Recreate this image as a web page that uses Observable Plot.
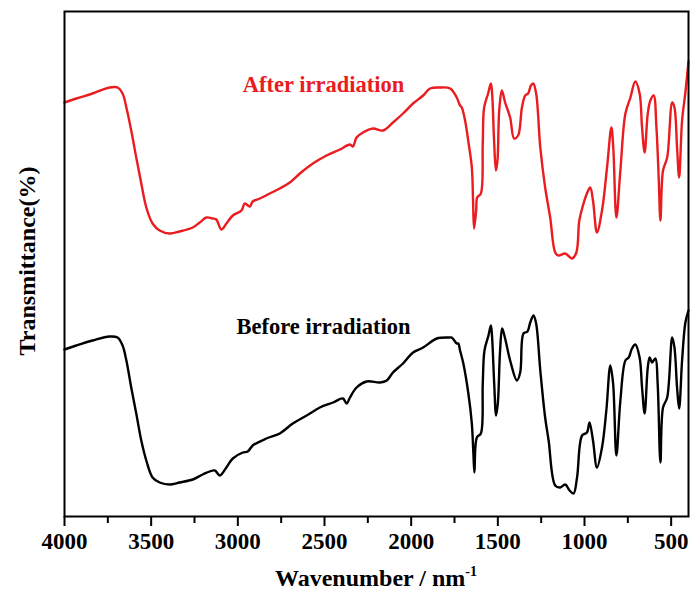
<!DOCTYPE html>
<html>
<head>
<meta charset="utf-8">
<script src="https://cdn.jsdelivr.net/npm/d3@7"></script>
<script src="https://cdn.jsdelivr.net/npm/@observablehq/plot@0.6"></script>
<style>
  html, body { margin: 0; padding: 0; background: #fff; }
  #chart { width: 691px; height: 599px; }
  #chart svg text { font-family: 'Liberation Serif', 'Times New Roman', serif; }
</style>
</head>
<body>
<div id="chart"></div>
<script>
// Wavenumber (cm-1 axis, labelled nm-1) and transmittance (arbitrary units)
const afterWn = [4000,3932,3838,3740,3694,3665,3643,3615,3586,3557,3528,3492,3451,3393,3336,3260,3220,3181,3145,3124,3095,3066,3029,2979,2960,2931,2914,2873,2815,2758,2700,2642,2567,2488,2411,2353,2336,2315,2278,2220,2163,2105,2047,1989,1931,1891,1833,1775,1737,1718,1708,1689,1671,1650,1643,1637,1625,1619,1598,1587,1579,1556,1540,1533,1521,1511,1502,1492,1477,1458,1429,1406,1383,1361,1342,1325,1309,1296,1279,1255,1227,1198,1169,1151,1111,1072,1047,1030,1009,986,967,951,928,899,870,845,834,816,793,764,735,707,682,668,653,635,620,601,585,572,562,547,523,494,481,466,454,437,418,400];
const afterT = [414,418,423,429,429,423,409,386,359,333,309,293,286,283,285,289,294,299,298,297,287,293,301,306,313,310,315,318,323,328,334,343,353,361,367,372,370,379,384,388,386,394,403,413,421,428,429,428,419,411,409,396,376,349,316,288,306,319,323,373,409,423,433,423,373,346,356,406,426,414,399,378,381,409,421,423,431,433,423,369,329,299,264,261,263,258,264,296,311,323,329,316,284,306,349,389,369,299,346,403,419,435,423,389,364,403,416,421,389,339,296,346,359,414,409,369,339,396,424,455];

const beforeWn = [4000,3932,3838,3740,3694,3665,3643,3615,3586,3557,3528,3492,3451,3393,3336,3260,3203,3133,3104,3066,3029,2971,2943,2914,2835,2758,2683,2603,2527,2451,2394,2372,2353,2315,2257,2180,2141,2105,2047,1989,1931,1852,1775,1766,1737,1728,1718,1699,1670,1650,1641,1635,1621,1598,1587,1577,1554,1540,1533,1521,1510,1500,1487,1475,1458,1429,1390,1371,1352,1329,1313,1294,1279,1255,1227,1207,1169,1140,1111,1086,1063,1043,1014,986,971,951,928,899,874,851,835,816,793,764,745,726,707,682,668,653,635,624,610,591,578,562,547,523,494,481,466,454,437,418,400];
const beforeT = [167,171,176,180,179,171,156,129,103,76,56,39,34,32,34,37,42,46,41,49,58,64,65,71,78,83,93,101,109,114,118,113,119,129,135,134,136,144,153,164,169,178,179,179,173,173,166,153,123,93,63,44,79,83,133,166,181,191,179,133,101,113,166,188,178,156,136,144,183,185,194,201,193,146,99,76,31,29,32,26,23,39,81,84,94,76,49,69,106,151,133,61,116,156,159,168,172,159,129,103,149,159,154,158,133,54,109,119,179,169,129,108,156,194,206];

const majorTicks = [4000,3500,3000,2500,2000,1500,1000,500];
const minorTicks = [3750,3250,2750,2250,1750,1250,750];

const seriesNames = ["After irradiation", "Before irradiation"];
const seriesColors = ["#ea1c1f", "#000000"];
const labelWn = [2506, 2506];
const labelT = [432, 190];

const afterData = afterWn.map((w, i) => ({wn: w, t: afterT[i]}));
const beforeData = beforeWn.map((w, i) => ({wn: w, t: beforeT[i]}));
const labels = seriesNames.map((n, i) => ({name: n, wn: labelWn[i], t: labelT[i], color: seriesColors[i]}));

const fontFamily = "'Liberation Serif', 'Times New Roman', serif";

const svg = Plot.plot({
  width: 691,
  height: 599,
  marginLeft: 64,
  marginRight: 3,
  marginTop: 11,
  marginBottom: 83,
  style: {fontFamily, fontWeight: "bold", fontSize: "23px", background: "#fff", color: "#000"},
  x: {domain: [4000, 400], label: null, axis: null},
  y: {domain: [0, 505], axis: null},
  marks: [
    Plot.line(afterData, {x: "wn", y: "t", stroke: seriesColors[0], strokeWidth: 2.4, curve: "catmull-rom"}),
    Plot.line(beforeData, {x: "wn", y: "t", stroke: seriesColors[1], strokeWidth: 2.4, curve: "catmull-rom"}),
    Plot.text(labels, {x: "wn", y: "t", text: "name", fill: "color", fontSize: 22.5, fontWeight: "bold", fontFamily, textAnchor: "middle", lineAnchor: "middle"}),
    Plot.axisX({ticks: minorTicks, tickSize: 7, text: null, strokeWidth: 2, label: null}),
    Plot.axisX({ticks: majorTicks, tickSize: 10, text: null, strokeWidth: 2, label: null}),
    Plot.text(majorTicks, {x: d => d, text: d => String(d), frameAnchor: "bottom", dy: 25, lineAnchor: "middle", textAnchor: "middle", fontFamily, fontSize: 23, fontWeight: "bold", fill: "#000"}),
    Plot.frame({stroke: "#000", strokeWidth: 2})
  ]
});

const s = d3.select(svg);
const xt = s.append("text")
  .attr("x", 376).attr("y", 586)
  .attr("text-anchor", "middle")
  .attr("font-family", fontFamily)
  .attr("font-weight", "bold")
  .attr("font-size", 24)
  .attr("fill", "#000");
xt.append("tspan").text("Wavenumber / nm");
xt.append("tspan").attr("dy", -10).attr("font-size", 14).text("-1");

s.append("text")
  .attr("transform", "translate(35,261) rotate(-90)")
  .attr("text-anchor", "middle")
  .attr("font-family", fontFamily)
  .attr("font-weight", "bold")
  .attr("font-size", 24)
  .attr("fill", "#000")
  .text("Transmittance(%)");

document.getElementById("chart").appendChild(svg);
</script>
</body>
</html>
